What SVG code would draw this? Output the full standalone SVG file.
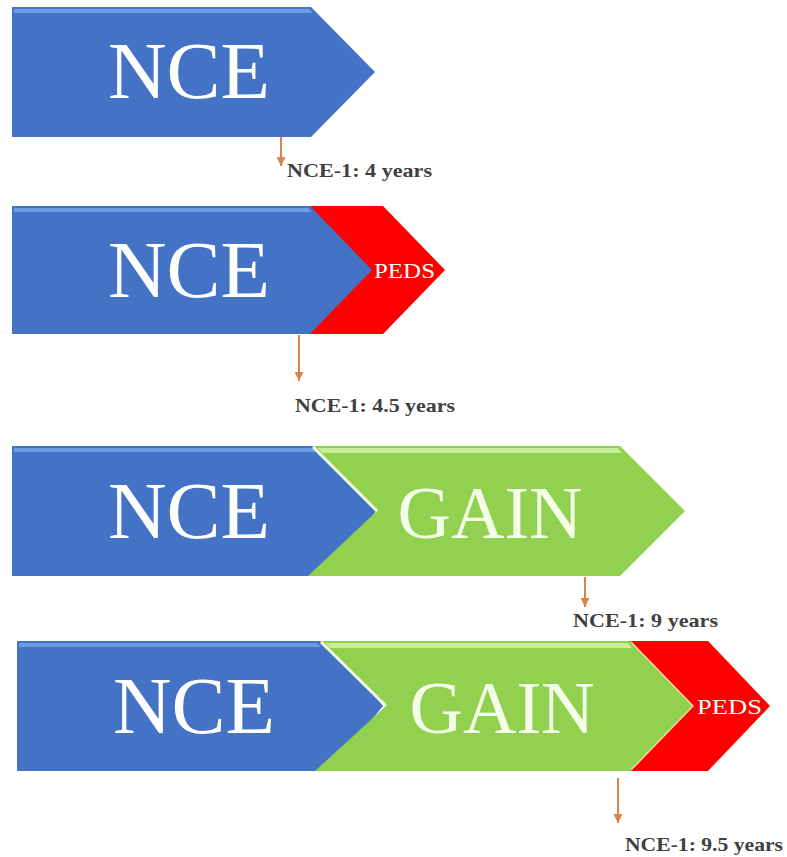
<svg xmlns="http://www.w3.org/2000/svg" width="787" height="857" viewBox="0 0 787 857">
<defs>
<style>
.blue{fill:#4472C4;}
.green{fill:#92D050;}
.red{fill:#FF0000;}
.hlb{fill:#6E9BE6;}
.hlg{fill:#C8EE9A;}
.big{font-family:"Liberation Serif","Times New Roman",serif;fill:#FFFFFF;text-anchor:middle;}
.gain{fill:#F4FFE8;}
.peds{font-family:"Liberation Serif","Times New Roman",serif;font-size:22px;fill:#FFFFFF;}
.lbl{font-family:"Liberation Serif","Times New Roman",serif;font-size:19px;font-weight:bold;fill:#404040;}
.conn{stroke:#D9844A;stroke-width:2;fill:none;}
.bevel{stroke:#EFFFE0;stroke-width:3;fill:none;}
</style>
<marker id="ah" markerWidth="9" markerHeight="9" refX="9" refY="4.5" orient="auto" markerUnits="userSpaceOnUse" viewBox="0 0 9 9">
<path d="M0,0 L9,4.5 L0,9 Z" fill="#D9844A"/>
</marker>
</defs>
<rect width="787" height="857" fill="#FFFFFF"/>

<!-- Row 1 -->
<g id="nce1">
<polygon class="blue" points="12,7 311,7 375,72 311,137 12,137"/>
<polygon class="hlb" points="14,9 309,9 313,13 14,13"/>
<text class="big" x="189" y="98" font-size="81">NCE</text>
</g>

<!-- Row 2 -->
<g id="peds2">
<polygon class="red" points="300,206 383,206 445,270 383,334 300,334"/>
<text class="peds" x="374" y="278" textLength="61" lengthAdjust="spacingAndGlyphs">PEDS</text>
</g>
<g id="nce2">
<polygon class="blue" points="12,206 310,206 372,270 310,334 12,334"/>
<polygon class="hlb" points="14,208 308,208 312,212 14,212"/>
<text class="big" x="189" y="297" font-size="81">NCE</text>
</g>

<!-- Row 3 -->
<g id="nce3">
<polygon class="blue" points="12,446 330,446 376,511 330,576 12,576"/>
<polygon class="hlb" points="14,448 312,448 316,452 14,452"/>
<text class="big" x="189" y="538" font-size="81">NCE</text>
</g>
<g id="gain3">
<polygon class="green" points="312,446 620,446 685,511 620,576 308,576 377,511"/>
<polygon class="hlg" points="318,448 618,448 622,453 322,453"/>
<polyline class="bevel" points="313,447 377,511"/>
<text class="big gain" x="490" y="538" font-size="74">GAIN</text>
</g>

<!-- Row 4 -->
<g id="peds4">
<polygon class="red" points="600,641 708,641 770,706 708,771 600,771"/>
<text class="peds" x="697" y="714" textLength="65" lengthAdjust="spacingAndGlyphs">PEDS</text>
</g>
<g id="nce4">
<polygon class="blue" points="17,641 330,641 383,706 330,771 17,771"/>
<polygon class="hlb" points="19,643 317,643 321,647 19,647"/>
<text class="big" x="194" y="733" font-size="81">NCE</text>
</g>
<g id="gain4">
<polygon class="green" points="320,641 630,641 693,706 630,771 315,771 386,706"/>
<polygon class="hlg" points="326,643 628,643 632,648 330,648"/>
<polyline class="bevel" points="321,642 386,706"/>
<polyline stroke="#F5D9A0" stroke-width="1.5" fill="none" points="631,642 693,706 631,770"/>
<text class="big gain" x="502" y="733" font-size="74">GAIN</text>
</g>

<!-- Connectors -->
<g id="connectors">
<line class="conn" x1="281" y1="137" x2="281" y2="166" marker-end="url(#ah)"/>
<line class="conn" x1="299" y1="335" x2="299" y2="381" marker-end="url(#ah)"/>
<line class="conn" x1="585" y1="577" x2="585" y2="607" marker-end="url(#ah)"/>
<line class="conn" x1="618" y1="778" x2="618" y2="823" marker-end="url(#ah)"/>
<text class="lbl" x="287" y="177" textLength="145" lengthAdjust="spacingAndGlyphs">NCE-1: 4 years</text>
<text class="lbl" x="295" y="412" textLength="160" lengthAdjust="spacingAndGlyphs">NCE-1: 4.5 years</text>
<text class="lbl" x="573" y="627" textLength="145" lengthAdjust="spacingAndGlyphs">NCE-1: 9 years</text>
<text class="lbl" x="625" y="851" textLength="158" lengthAdjust="spacingAndGlyphs">NCE-1: 9.5 years</text>
</g>
</svg>
